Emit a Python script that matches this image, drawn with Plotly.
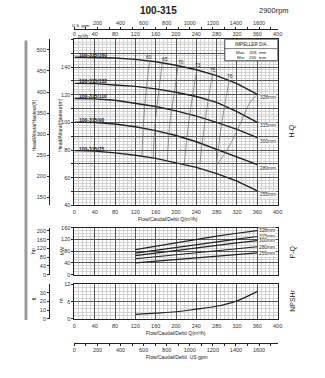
import plotly.graph_objects as go

W, H = 325, 378

# ---------------- data ----------------
flow = [0, 40, 80, 120, 160, 200, 240, 280, 320, 360]
head_328 = [147, 147, 146.5, 145.5, 143.8, 141.3, 138, 133.8, 128, 120.3]
head_315 = [128.2, 128, 127, 126, 124.2, 121.8, 118.7, 114.5, 107.8, 100]
head_300 = [117.2, 117, 116, 114, 111.5, 108.3, 104.5, 100, 95, 89]
head_280 = [100.2, 99.8, 98.8, 96.8, 94, 90.5, 86, 80.5, 75, 69.5]
head_255 = [79.6, 79.2, 78, 76.3, 74, 71, 67.5, 63, 57.5, 50.5]
diameters = ["328mm", "315mm", "300mm", "280mm", "255mm"]
models = ["100-315/160", "100-315/132", "100-315/110", "100-315/90", "100-315/75"]

eff_labels = ["60", "65", "70", "73", "75", "76"]
eff_60_q = [148, 141, 136, 133];            eff_60_h = [144.3, 122, 100, 75.6]
eff_65_q = [173, 166, 159, 155];            eff_65_h = [143.0, 122, 100, 74.4]
eff_70_q = [204, 196, 188, 183];            eff_70_h = [141.0, 120, 100, 71.8]
eff_73_q = [241, 233, 225, 219, 216];       eff_73_h = [138, 120, 100, 80, 69.6]
eff_75_q = [272, 265, 257, 250, 247];       eff_75_h = [134.7, 120, 100, 80, 70]
eff_76_q = [305, 297, 289, 283, 279];       eff_76_h = [130.6, 115, 97, 80, 68.5]
eff_76r_q = [360, 345, 330, 305, 279];      eff_76r_h = [120.3, 114, 102, 83, 68.5]
eff_label_q = [147, 178, 209, 243.5, 272.5, 306]
eff_label_h = [146.9, 145.6, 143.4, 141.2, 137.7, 133.4]

flow_p = [120, 160, 200, 240, 280, 320, 360]
power_328 = [85, 97, 109, 120, 131, 141, 150]
power_315 = [73, 83, 93, 103, 112, 121, 130]
power_300 = [65, 74, 83, 92, 100, 108, 116]
power_280 = [54, 61, 68, 75, 82, 89, 95]
power_255 = [40, 46, 52, 58, 63, 69, 74]
power_label_kw = [151, 131, 117.5, 93, 70.5]

npsh = [1.6, 2.0, 2.5, 3.4, 4.4, 6.3, 9.6]

q_ticks = list(range(0, 401, 40))
gpm_ticks = list(range(0, 1601, 200))
ft_ticks = list(range(150, 501, 50))
hp_ticks = list(range(0, 201, 40))
npsh_ft_ticks = [0, 10, 20, 30]

# ---------------- layout helpers ----------------
def py(p):
    return 1 - p / H

def pxx(p):
    return p / W

FONT = "Liberation Sans"
DARK = "#222"
GRID = "#555"
MINOR = "#d2d2d2"
TF = dict(family=FONT, size=5.5, color="#333")

dom_x = [74 / W, 281.7 / W]
dom_main = [py(205.7), py(36.9)]
dom_pow = [py(276), py(228.3)]
dom_npsh = [py(321), py(286)]
GPM_PER_M3H = 4.4029

fig = go.Figure()

heads = [head_328, head_315, head_300, head_280, head_255]
for h in heads:
    fig.add_trace(go.Scatter(x=flow, y=h, mode="lines", xaxis="x", yaxis="y",
                             line=dict(color=DARK, width=1.4), hoverinfo="skip"))

effs = [(eff_60_q, eff_60_h), (eff_65_q, eff_65_h), (eff_70_q, eff_70_h),
        (eff_73_q, eff_73_h), (eff_75_q, eff_75_h), (eff_76_q, eff_76_h),
        (eff_76r_q, eff_76r_h)]
for q, h in effs:
    fig.add_trace(go.Scatter(x=q, y=h, mode="lines", xaxis="x", yaxis="y",
                             line=dict(color="#666", width=0.7, shape="spline"),
                             hoverinfo="skip"))

powers = [power_328, power_315, power_300, power_280, power_255]
for p in powers:
    fig.add_trace(go.Scatter(x=flow_p, y=p, mode="lines", xaxis="x2", yaxis="y3",
                             line=dict(color=DARK, width=1.2), hoverinfo="skip"))

fig.add_trace(go.Scatter(x=flow_p, y=npsh, mode="lines", xaxis="x3", yaxis="y5",
                         line=dict(color=DARK, width=1.2, shape="spline"), hoverinfo="skip"))

# invisible helpers so that secondary axes are drawn
def ghost(xa, ya, x, y):
    fig.add_trace(go.Scatter(x=[x], y=[y], mode="markers", xaxis=xa, yaxis=ya,
                             marker=dict(opacity=0), hoverinfo="skip"))

ghost("x", "y2", 0, 300)
ghost("x2", "y4", 200, 50)
ghost("x3", "y6", 200, 10)
ghost("x4", "y5", 100, 5)
ghost("x5", "y", 100, 100)
ghost("x6", "y", 100, 100)

def xax(anchor, labels=True, **kw):
    d = dict(domain=dom_x, range=[0, 400], anchor=anchor, tickvals=q_ticks,
             showticklabels=labels, ticks="", showgrid=True, gridcolor=GRID,
             gridwidth=0.8, minor=dict(dtick=8, showgrid=True, gridcolor=MINOR, gridwidth=0.5),
             showline=True, mirror=True, linecolor=DARK, linewidth=1, zeroline=False,
             tickfont=TF, ticklabelstandoff=1)
    d.update(kw)
    return d

main_text = [str(v) if v % 20 == 0 and v < 160 else "" for v in range(40, 161, 10)]

fig.update_layout(
    width=W, height=H, margin=dict(l=0, r=0, t=0, b=0),
    paper_bgcolor="white", plot_bgcolor="white", showlegend=False,
    font=dict(family=FONT, size=6, color="#333"),
    xaxis=xax("y"),
    yaxis=dict(domain=dom_main, range=[40, 160], anchor="x",
               tickvals=list(range(40, 161, 10)), ticktext=main_text,
               ticks="outside", ticklen=2, tickcolor=DARK, showgrid=True, gridcolor=GRID,
               gridwidth=0.8, minor=dict(dtick=2, showgrid=True, gridcolor=MINOR, gridwidth=0.5),
               showline=True, mirror=True, linecolor=DARK, linewidth=1, zeroline=False,
               tickfont=TF),
    yaxis2=dict(overlaying="y", anchor="free", position=48 / W, side="left",
                range=[40 / 0.3048, 160 / 0.3048], tickvals=ft_ticks, ticks="outside",
                ticklen=2, tickcolor=DARK, showgrid=False, showline=True, linecolor=DARK,
                linewidth=0.8, zeroline=False, tickfont=TF),
    xaxis2=xax("y3", labels=False),
    yaxis3=dict(domain=dom_pow, range=[0, 160], anchor="x2", tickvals=[0, 40, 80, 120, 160],
                ticks="outside", ticklen=2, tickcolor=DARK, showgrid=True, gridcolor=GRID,
                gridwidth=0.8, minor=dict(dtick=10, showgrid=True, gridcolor=MINOR, gridwidth=0.5),
                showline=True, mirror=True, linecolor=DARK, linewidth=1, zeroline=False,
                tickfont=TF),
    yaxis4=dict(overlaying="y3", anchor="free", position=48 / W, side="left",
                range=[0, 160 / 0.7457], tickvals=hp_ticks, ticks="outside", ticklen=2,
                tickcolor=DARK, showgrid=False, showline=True, linecolor=DARK, linewidth=0.8,
                zeroline=False, tickfont=TF),
    xaxis3=xax("y5"),
    yaxis5=dict(domain=dom_npsh, range=[0, 12], anchor="x3", tickvals=[0, 6, 12],
                ticks="outside", ticklen=2, tickcolor=DARK, showgrid=True, gridcolor=GRID,
                gridwidth=0.8, minor=dict(dtick=1.2, showgrid=True, gridcolor=MINOR, gridwidth=0.5),
                showline=True, mirror=True, linecolor=DARK, linewidth=1, zeroline=False,
                tickfont=TF),
    yaxis6=dict(overlaying="y5", anchor="free", position=48 / W, side="left",
                range=[0, 12 / 0.3048], tickvals=npsh_ft_ticks, ticks="outside", ticklen=2,
                tickcolor=DARK, showgrid=False, showline=True, linecolor=DARK, linewidth=0.8,
                zeroline=False, tickfont=TF),
    xaxis4=dict(domain=dom_x, overlaying="x3", anchor="free", position=py(345.7), side="bottom",
                range=[0, 400 * GPM_PER_M3H], tickvals=gpm_ticks, ticks="outside", ticklen=1.5,
                tickcolor=DARK, minor=dict(dtick=100, ticks="outside", ticklen=1.5, tickcolor=DARK),
                showgrid=False, showline=True, linecolor=DARK, linewidth=0.8, zeroline=False,
                tickfont=TF, ticklabelstandoff=0),
    xaxis5=dict(domain=dom_x, overlaying="x", anchor="free", position=py(26), side="top",
                range=[0, 400 * GPM_PER_M3H], tickvals=gpm_ticks[1:], ticks="outside", ticklen=1.5,
                tickcolor=DARK, minor=dict(dtick=100, ticks="outside", ticklen=1.5, tickcolor=DARK),
                showgrid=False, showline=True, linecolor=DARK, linewidth=0.8, zeroline=False,
                tickfont=TF, ticklabelstandoff=0),
    xaxis6=dict(domain=dom_x, overlaying="x", anchor="y", side="top", range=[0, 400],
                tickvals=q_ticks, ticks="", showgrid=False, showline=False, zeroline=False,
                tickfont=TF, ticklabelstandoff=1),
)

ann = []

def A(text, x, y, xref="paper", yref="paper", size=5.5, angle=0, xanchor="center",
      yanchor="middle", bold=False, bg=None, color="#222"):
    t = f"<b>{text}</b>" if bold else text
    d = dict(text=t, x=x, y=y, xref=xref, yref=yref, showarrow=False, textangle=angle,
             xanchor=xanchor, yanchor=yanchor, font=dict(family=FONT, size=size, color=color),
             borderpad=0)
    if bg:
        d["bgcolor"] = bg
    ann.append(d)

A("100-315", pxx(160), py(8), size=10, bold=True)
A("2900rpm", pxx(278), py(7.5), size=7.5)
A("U.S. gpm", pxx(71), py(22.5), size=4.2, xanchor="left")
A("m³/h", pxx(77), py(33.5), size=5, xanchor="left")
A("Head/Altura/Hauteur(ft)", pxx(33), py(124), size=5, angle=-90)
A("Head/Altura/Hauteur(m)", pxx(59), py(124), size=5, angle=-90)
A("Flow/Caudal/Debit Q(m³/h)", pxx(170), py(219.5), size=5)
A("hp", pxx(32), py(252), size=5.5, angle=-90)
A("kW", pxx(61), py(251), size=5.5, angle=-90)
A("ft", pxx(33), py(300), size=5.5, angle=-90)
A("m", pxx(60), py(302), size=5.5, angle=-90)
A("Flow/Caudal/Debit Q(m³/h)", pxx(178), py(335), size=5)
A("Flow/Caudal/Debit  US gpm", pxx(179), py(359.5), size=5)
A("H-Q", pxx(296), py(130), size=7, angle=-90)
A("P-Q", pxx(297), py(253), size=7, angle=-90)
A("NPSHr", pxx(297), py(303), size=7, angle=-90)

# model labels on the curves
for name, h in zip(models, heads):
    A(name, 8, h[1] + 1.9, xref="x", yref="y", size=5, xanchor="left", bold=True)
# diameter labels at curve ends
for d, h in zip(diameters, heads):
    A(d, 364, h[-1] - 2.6, xref="x", yref="y", size=4.8, xanchor="left", bg="white")
# efficiency labels
for lab, q, h in zip(eff_labels, eff_label_q, eff_label_h):
    A(lab, q, h, xref="x", yref="y", size=4.8)
# power labels
for d, kw in zip(diameters, power_label_kw):
    A(d, 361.5, kw, xref="x2", yref="y3", size=4.8, xanchor="left", bg="white")

# impeller box texts
A("IMPELLER DIA.", 348, 156.5, xref="x", yref="y", size=4.6)
A("Max.   328  mm", 348, 150.7, xref="x", yref="y", size=4.4)
A("Min.   255  mm", 348, 147.1, xref="x", yref="y", size=4.4)

fig.update_layout(annotations=ann)

shapes = [
    dict(type="rect", xref="x", yref="y", x0=296, x1=400, y0=144.5, y1=160,
         fillcolor="white", line=dict(color=DARK, width=0.8), layer="above"),
    dict(type="line", xref="x", yref="y", x0=296, x1=400, y0=153.3, y1=153.3,
         line=dict(color=DARK, width=0.6), layer="above"),
    dict(type="rect", xref="paper", yref="paper", x0=pxx(23), x1=pxx(26),
         y0=py(322), y1=py(38), fillcolor="#9a9a9a", line=dict(width=0), layer="above"),
]
fig.update_layout(shapes=shapes)

fig.write_html("out.html")
